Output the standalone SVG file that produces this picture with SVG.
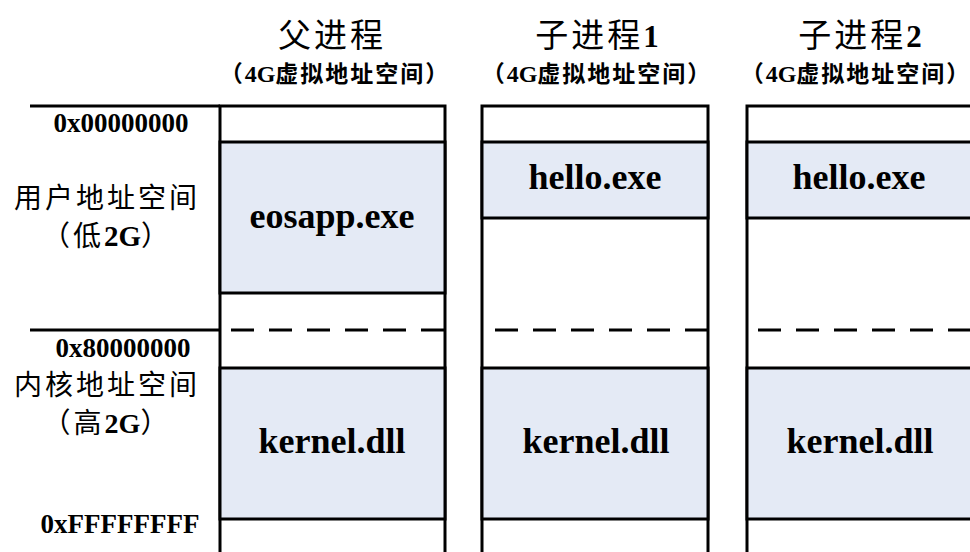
<svg xmlns="http://www.w3.org/2000/svg" width="970" height="552" viewBox="0 0 970 552">
<style>
.bg{fill:#ffffff}
.cell{fill:#ffffff;stroke:#000;stroke-width:3}
.fill{fill:#E4EAF5;stroke:#000;stroke-width:3}
.line{stroke:#000;stroke-width:3;fill:none}
.dash{stroke:#000;stroke-width:3;fill:none;stroke-dasharray:23 15}
.lat{font-family:"Liberation Serif","Times New Roman",serif;font-weight:bold;fill:#000;letter-spacing:0}
.cjk{font-family:"Noto Sans CJK SC","Noto Sans",sans-serif;fill:#000}
.title{font-size:33px;letter-spacing:3px}
.sub{font-size:23px;letter-spacing:2px;font-weight:bold}
.side{font-size:28px;letter-spacing:3px}
.mod{font-size:36px}
.addr{font-size:27px}
</style>
<rect class="bg" x="0" y="0" width="970" height="552"/>

<g id="titles">
  <text class="cjk title" x="332" y="47" text-anchor="middle">父进程</text>
  <text class="cjk sub" x="335" y="82" text-anchor="middle">（<tspan class="lat" font-size="24">4G</tspan>虚拟地址空间）</text>
  <text class="cjk title" x="597" y="47" text-anchor="middle">子进程<tspan class="lat" font-size="31">1</tspan></text>
  <text class="cjk sub" x="597" y="82" text-anchor="middle">（<tspan class="lat" font-size="24">4G</tspan>虚拟地址空间）</text>
  <text class="cjk title" x="860" y="47" text-anchor="middle">子进程<tspan class="lat" font-size="31">2</tspan></text>
  <text class="cjk sub" x="856" y="82" text-anchor="middle">（<tspan class="lat" font-size="24">4G</tspan>虚拟地址空间）</text>
</g>

<g id="side-labels">
  <text class="lat addr" x="121" y="132" text-anchor="middle">0x00000000</text>
  <text class="cjk side" x="107" y="208" text-anchor="middle">用户地址空间</text>
  <text class="cjk side" x="107" y="246" text-anchor="middle">（低<tspan class="lat" font-size="29">2G</tspan>）</text>
  <text class="lat addr" x="123" y="357" text-anchor="middle">0x80000000</text>
  <text class="cjk side" x="107" y="395" text-anchor="middle" font-size="27">内核地址空间</text>
  <text class="cjk side" x="107" y="433" text-anchor="middle" font-size="27">（高<tspan class="lat" font-size="28">2G</tspan>）</text>
  <text class="lat addr" x="120" y="533" text-anchor="middle" font-size="26">0xFFFFFFFF</text>
</g>

<g id="connectors">
  <line class="line" x1="30" y1="106" x2="220" y2="106"/>
  <line class="line" x1="30" y1="330" x2="220" y2="330"/>
</g>

<g id="parent-process">
  <rect class="cell" x="220" y="106" width="225" height="460"/>
  <rect class="fill" x="220" y="142" width="225" height="151"/>
  <rect class="fill" x="220" y="368" width="225" height="151"/>
  <line class="dash" x1="231" y1="330" x2="445" y2="330"/>
  <text class="lat mod" x="332" y="228" text-anchor="middle">eosapp.exe</text>
  <text class="lat mod" x="332" y="453" text-anchor="middle">kernel.dll</text>
</g>

<g id="child-process-1">
  <rect class="cell" x="482" y="106" width="226" height="460"/>
  <rect class="fill" x="482" y="142" width="226" height="76"/>
  <rect class="fill" x="482" y="368" width="226" height="151"/>
  <line class="dash" x1="495" y1="330" x2="708" y2="330"/>
  <text class="lat mod" x="595" y="189" text-anchor="middle">hello.exe</text>
  <text class="lat mod" x="596" y="453" text-anchor="middle">kernel.dll</text>
</g>

<g id="child-process-2">
  <rect class="cell" x="747" y="106" width="226" height="460"/>
  <rect class="fill" x="747" y="142" width="226" height="76"/>
  <rect class="fill" x="747" y="368" width="226" height="151"/>
  <line class="dash" x1="758" y1="330" x2="973" y2="330"/>
  <text class="lat mod" x="859" y="189" text-anchor="middle">hello.exe</text>
  <text class="lat mod" x="860" y="453" text-anchor="middle">kernel.dll</text>
</g>
</svg>
